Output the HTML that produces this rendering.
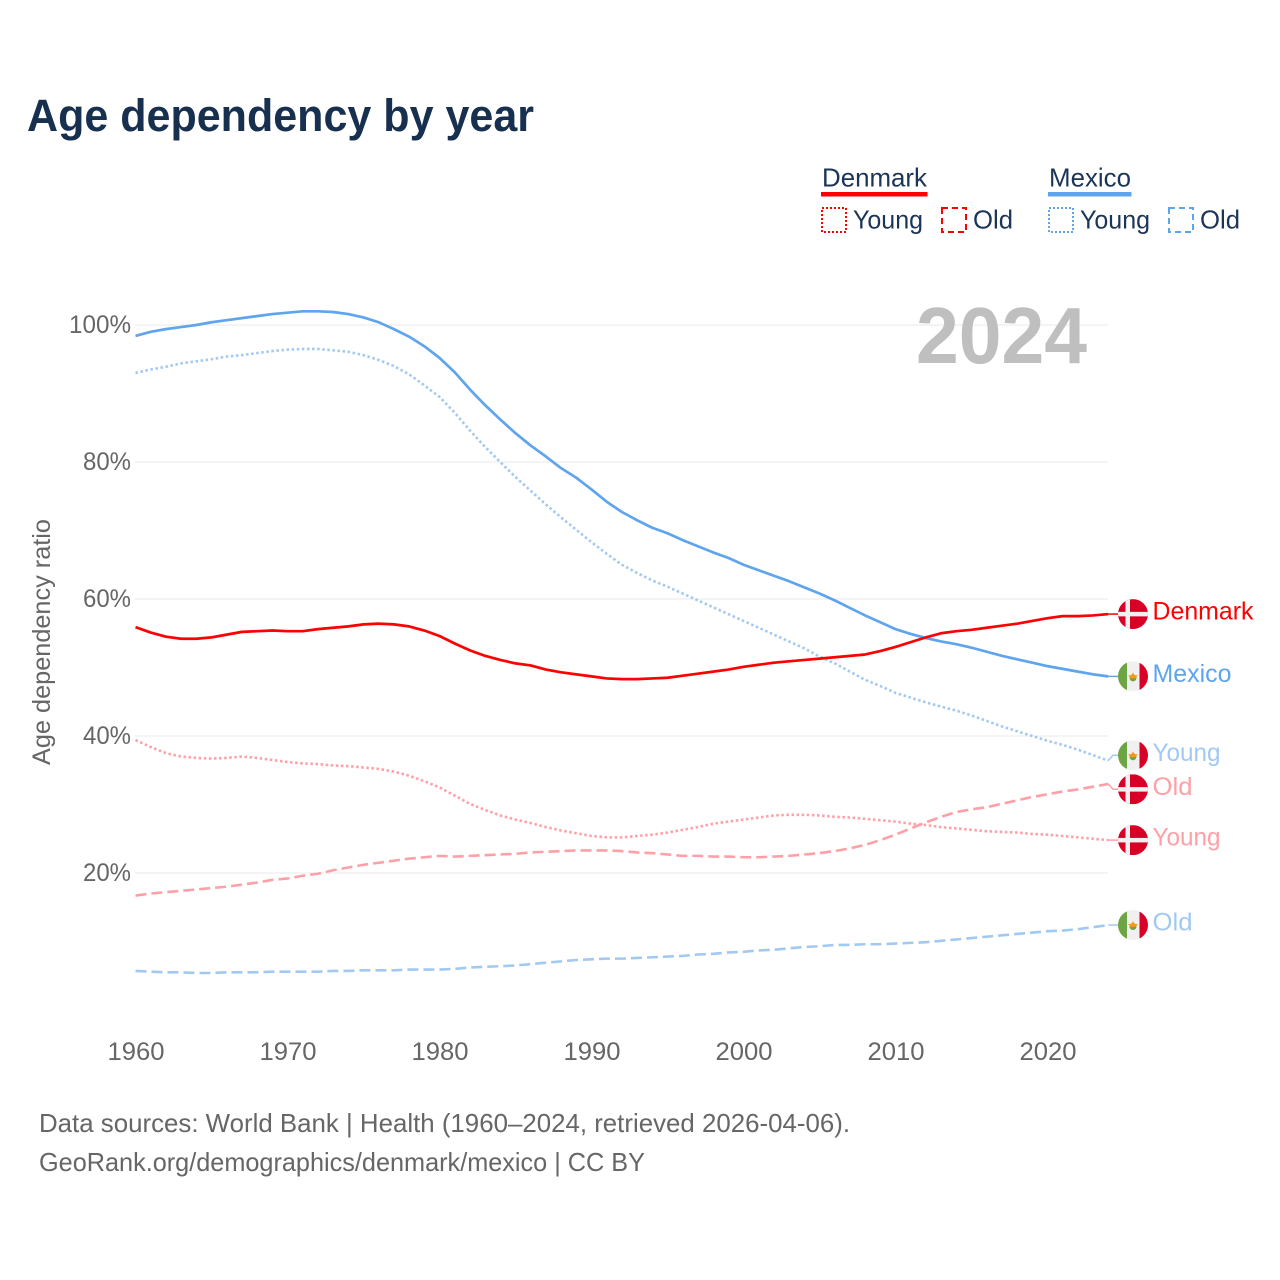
<!DOCTYPE html>
<html lang="en">
<head>
<meta charset="utf-8">
<title>Age dependency by year</title>
<style>
  html, body { margin: 0; padding: 0; background: #fff; }
  svg { display: block; font-family: "Liberation Sans", sans-serif; }
</style>
</head>
<body>
<svg id="chart" xmlns="http://www.w3.org/2000/svg" width="1280" height="1280" viewBox="0 0 1280 1280">
  <rect width="1280" height="1280" fill="#ffffff"/>
  <defs>
    <clipPath id="flag-clip"><circle cx="0" cy="0" r="15"/></clipPath>
  </defs>
  <text x="27" y="131" font-size="45" font-weight="700" fill="#18304f" textLength="507" lengthAdjust="spacingAndGlyphs">Age dependency by year</text>

  <g>
    <g>
      <text x="822" y="186.500" font-size="26" fill="#1b3557" textLength="105" lengthAdjust="spacingAndGlyphs">Denmark</text>
      <rect x="821" y="192" width="106.500" height="4.500" fill="#ff0000"/>
      <rect x="822" y="208" width="24" height="24" fill="none" stroke="#ff0000" stroke-width="2" stroke-dasharray="2 2"/>
      <text x="853" y="228.500" font-size="26" fill="#1b3557" textLength="70" lengthAdjust="spacingAndGlyphs">Young</text>
      <rect x="942" y="208" width="24" height="24" fill="none" stroke="#ff0000" stroke-width="2" stroke-dasharray="6 4"/>
      <text x="973" y="228.500" font-size="26" fill="#1b3557" textLength="40" lengthAdjust="spacingAndGlyphs">Old</text>
    </g>
    <g>
      <text x="1049" y="186.500" font-size="26" fill="#1b3557" textLength="82" lengthAdjust="spacingAndGlyphs">Mexico</text>
      <rect x="1048" y="192" width="83.500" height="4.500" fill="#5fa5ee"/>
      <rect x="1049" y="208" width="24" height="24" fill="none" stroke="#5fa5ee" stroke-width="2" stroke-dasharray="2 2"/>
      <text x="1080" y="228.500" font-size="26" fill="#1b3557" textLength="70" lengthAdjust="spacingAndGlyphs">Young</text>
      <rect x="1169" y="208" width="24" height="24" fill="none" stroke="#5fa5ee" stroke-width="2" stroke-dasharray="6 4"/>
      <text x="1200" y="228.500" font-size="26" fill="#1b3557" textLength="40" lengthAdjust="spacingAndGlyphs">Old</text>
    </g>
  </g>

  <g id="grid"></g>
  <text x="916" y="363" font-size="80" font-weight="700" fill="#bfbfbf" textLength="171" lengthAdjust="spacingAndGlyphs">2024</text>
  <g id="y-axis"></g>
  <g id="x-axis"></g>
  <text transform="translate(50,642) rotate(-90)" text-anchor="middle" font-size="25" fill="#666666" textLength="246" lengthAdjust="spacingAndGlyphs">Age dependency ratio</text>
  <g id="series"></g>
  <g id="end-labels"></g>

  <text x="39" y="1132" font-size="26" fill="#666666" textLength="811" lengthAdjust="spacingAndGlyphs">Data sources: World Bank | Health (1960–2024, retrieved 2026-04-06).</text>
  <text x="39" y="1171" font-size="26" fill="#666666" textLength="606" lengthAdjust="spacingAndGlyphs">GeoRank.org/demographics/denmark/mexico | CC BY</text>
</svg>

<script>
const startYear = 1960;
const xTickYears = [1960, 1970, 1980, 1990, 2000, 2010, 2020];
const yTickValues = [20, 40, 60, 80, 100];

const denmarkTotal = [55.9,55.1,54.5,54.2,54.2,54.4,54.8,55.2,55.3,55.4,55.3,55.3,55.6,55.8,56.0,56.3,56.4,56.3,56.0,55.4,54.6,53.5,52.5,51.7,51.1,50.6,50.3,49.7,49.3,49.0,48.7,48.4,48.3,48.3,48.4,48.5,48.8,49.1,49.4,49.7,50.1,50.4,50.7,50.9,51.1,51.3,51.5,51.7,51.9,52.4,53.0,53.7,54.4,55.0,55.3,55.5,55.8,56.1,56.4,56.8,57.2,57.5,57.5,57.6,57.8];
const denmarkYoung = [39.4,38.4,37.5,37.0,36.8,36.7,36.8,37.0,36.8,36.5,36.2,36.0,35.9,35.7,35.6,35.4,35.2,34.8,34.2,33.4,32.5,31.3,30.1,29.2,28.4,27.8,27.3,26.7,26.2,25.8,25.4,25.2,25.2,25.4,25.6,25.9,26.3,26.7,27.2,27.5,27.8,28.1,28.4,28.5,28.5,28.4,28.2,28.1,27.9,27.7,27.5,27.2,27.0,26.7,26.5,26.3,26.1,26.0,25.9,25.7,25.6,25.4,25.2,25.0,24.8];
const denmarkOld = [16.7,17.0,17.2,17.4,17.6,17.8,18.0,18.3,18.6,19.0,19.2,19.6,19.9,20.4,20.8,21.2,21.5,21.8,22.1,22.3,22.5,22.4,22.5,22.6,22.7,22.8,23.0,23.1,23.2,23.3,23.3,23.3,23.2,23.0,22.9,22.7,22.5,22.5,22.4,22.4,22.3,22.3,22.4,22.5,22.7,22.9,23.2,23.6,24.1,24.8,25.6,26.5,27.4,28.2,28.9,29.3,29.6,30.1,30.6,31.1,31.5,31.9,32.2,32.6,33.0];
const mexicoTotal = [98.4,99.0,99.4,99.7,100.0,100.4,100.7,101.0,101.3,101.6,101.8,102.0,102.0,101.9,101.6,101.1,100.4,99.4,98.3,96.9,95.2,93.1,90.6,88.3,86.2,84.2,82.4,80.8,79.1,77.7,76.0,74.2,72.7,71.5,70.4,69.6,68.6,67.7,66.8,66.0,65.0,64.2,63.4,62.6,61.7,60.8,59.8,58.7,57.6,56.6,55.6,54.9,54.3,53.8,53.4,52.9,52.3,51.7,51.2,50.7,50.2,49.8,49.4,49.0,48.7];
const mexicoYoung = [93.0,93.5,93.9,94.4,94.7,95.0,95.4,95.6,95.9,96.2,96.4,96.5,96.5,96.3,96.1,95.6,94.9,94.0,92.8,91.2,89.5,87.2,84.6,82.2,80.0,77.8,75.8,73.8,71.9,70.1,68.3,66.6,65.0,63.8,62.7,61.8,60.8,59.8,58.8,57.8,56.8,55.8,54.8,53.8,52.8,51.6,50.6,49.4,48.2,47.3,46.3,45.6,44.9,44.3,43.7,43.0,42.2,41.4,40.7,40.0,39.3,38.7,38.0,37.2,36.4];
const mexicoOld = [5.7,5.6,5.5,5.5,5.4,5.4,5.5,5.5,5.5,5.6,5.6,5.6,5.6,5.7,5.7,5.8,5.8,5.8,5.9,5.9,5.9,6.0,6.2,6.3,6.4,6.5,6.7,6.9,7.1,7.3,7.4,7.5,7.5,7.6,7.7,7.8,7.9,8.1,8.2,8.4,8.5,8.7,8.8,9.0,9.2,9.3,9.5,9.5,9.6,9.6,9.7,9.8,9.9,10.1,10.3,10.5,10.7,10.9,11.1,11.3,11.5,11.6,11.8,12.1,12.4];

const SVG_NS = 'http://www.w3.org/2000/svg';
function xScale(year) { return 135.5 + (year - 1960) * 15.2; }
function yScale(value) { return 325 + (100 - value) * 6.85; }
function make(tag, attrs, parent, text) {
  const node = document.createElementNS(SVG_NS, tag);
  for (const key in attrs) node.setAttribute(key, attrs[key]);
  if (text !== undefined) node.textContent = text;
  parent.appendChild(node);
  return node;
}

const gridGroup = document.getElementById('grid');
const yAxisGroup = document.getElementById('y-axis');
const xAxisGroup = document.getElementById('x-axis');
const seriesGroup = document.getElementById('series');
const labelGroup = document.getElementById('end-labels');

yTickValues.forEach(function (tick) {
  const line = make('line', { x1: 135, x2: 1108, y1: yScale(tick), y2: yScale(tick), stroke: '#e8e8e8', 'stroke-width': 1 }, gridGroup);
  
  
  const label = make('text', { x: 131, y: yScale(tick) + 8, 'text-anchor': 'end', 'font-size': 25, fill: '#666666', textLength: tick === 100 ? 62 : 48, lengthAdjust: 'spacingAndGlyphs' }, yAxisGroup, tick + '%');
  
  
});

xTickYears.forEach(function (year) {
  const label = make('text', { x: xScale(year) + 0.5, y: 1060, 'text-anchor': 'middle', 'font-size': 25, fill: '#666666', textLength: 57, lengthAdjust: 'spacingAndGlyphs' }, xAxisGroup, String(year));
  
  
});

const RED = '#ff0000', BLUE = '#5fa5ee', LIGHT_RED = '#ff9fa6', LIGHT_BLUE = '#a1c9f2';
const DOTTED = '2.5 2.6', DASHED = '11 5';
const seriesList = [
  { id: 'mexico-old', values: mexicoOld, color: LIGHT_BLUE, dash: DASHED, width: 2.6, country: 'mexico', label: 'Old', labelWidth: 40 },
  { id: 'mexico-young', values: mexicoYoung, color: LIGHT_BLUE, dash: DOTTED, width: 2.6, country: 'mexico', label: 'Young', labelWidth: 68 },
  { id: 'mexico-total', values: mexicoTotal, color: BLUE, dash: '', width: 2.7, country: 'mexico', label: 'Mexico', labelWidth: 79 },
  { id: 'denmark-old', values: denmarkOld, color: LIGHT_RED, dash: DASHED, width: 2.6, country: 'denmark', label: 'Old', labelWidth: 40 },
  { id: 'denmark-young', values: denmarkYoung, color: LIGHT_RED, dash: DOTTED, width: 2.6, country: 'denmark', label: 'Young', labelWidth: 68 },
  { id: 'denmark-total', values: denmarkTotal, color: RED, dash: '', width: 2.7, country: 'denmark', label: 'Denmark', labelWidth: 101 }
];

seriesList.forEach(function (series) {
  const points = series.values.map(function (value, index) {
    return xScale(startYear + index).toFixed(2) + ',' + yScale(value).toFixed(2);
  }).join(' ');
  const path = make('polyline', { points: points, fill: 'none', stroke: series.color, 'stroke-width': series.width, 'stroke-linejoin': 'round' }, seriesGroup);
  if (series.dash) path.setAttribute('stroke-dasharray', series.dash);
  
  
});

/* End-label placement: keep labels at their final values, pushing close ones apart. */
const MIN_GAP = 34;
const placed = seriesList.map(function (series) {
  const end = yScale(series.values[series.values.length - 1]);
  return { series: series, end: end, y: end };
}).sort(function (a, b) { return a.end - b.end; });
for (let pass = 0; pass < 8; pass++) {
  for (let i = 1; i < placed.length; i++) {
    const overlap = MIN_GAP - (placed[i].y - placed[i - 1].y);
    if (overlap > 0) {
      placed[i - 1].y -= overlap / 2;
      placed[i].y += overlap / 2;
    }
  }
}

placed.forEach(function (item) {
  const series = item.series;
  const lineEndX = xScale(startYear + series.values.length - 1);
  const leader = make('polyline', { points: lineEndX + ',' + item.end + ' 1113,' + item.y + ' 1118,' + item.y, fill: 'none', stroke: series.color, 'stroke-width': 1.5 }, labelGroup);
  
  

  const flag = make('g', { transform: 'translate(1133,' + item.y + ')', 'clip-path': 'url(#flag-clip)' }, labelGroup);
  
  
  if (series.country === 'denmark') {
    make('rect', { x: -15, y: -15, width: 30, height: 30, fill: '#d80027' }, flag);
    make('rect', { x: -7.5, y: -15, width: 4.5, height: 30, fill: '#f0f0f0' }, flag);
    make('rect', { x: -15, y: -2.2, width: 30, height: 4.5, fill: '#f0f0f0' }, flag);
  } else {
    make('rect', { x: -15, y: -15, width: 30, height: 30, fill: '#f0f0f0' }, flag);
    make('rect', { x: -15, y: -15, width: 9, height: 30, fill: '#6da544' }, flag);
    make('rect', { x: 6.500, y: -15, width: 9, height: 30, fill: '#d80027' }, flag);
    make('circle', { cx: 0, cy: 1.500, r: 3.500, fill: '#6da544' }, flag);
    make('path', { d: 'M-5,-1 L5,-1 L2,2 L-2,2 Z M-1.500,-1 L0,-4 L1.500,-1 Z', fill: '#ff9811' }, flag);
  }

  const label = make('text', { x: 1152.5, y: item.y + 5.5, 'font-size': 25, fill: series.color, textLength: series.labelWidth, lengthAdjust: 'spacingAndGlyphs' }, labelGroup, series.label);
  
  
});
</script>
</body>
</html>
